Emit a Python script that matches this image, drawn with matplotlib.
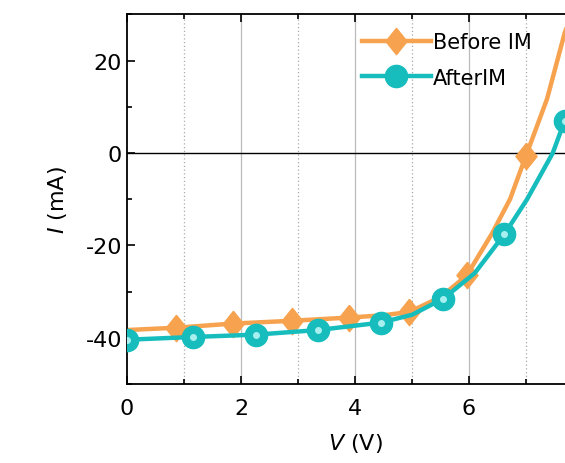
import matplotlib
matplotlib.use('Agg')
import matplotlib.pyplot as plt
from matplotlib.ticker import MultipleLocator

plt.rcParams['font.family'] = ['DejaVu Sans']
plt.rcParams['mathtext.fontset'] = 'dejavusans'
plt.rcParams['axes.unicode_minus'] = False

# Before IM: line and diamond markers
before_v = [0.0, 0.86, 1.86, 2.89, 3.9, 4.5, 4.95, 5.5, 5.96, 6.4, 6.72, 7.0, 7.37, 7.68, 7.9]
before_i = [-38.3, -37.8, -36.9, -36.3, -35.6, -35.1, -34.4, -31.2, -26.5, -17.5, -10.0, -0.6, 11.7, 26.0, 33.0]
before_mv = [0.86, 1.86, 2.89, 3.9, 4.95, 5.96, 7.0]
before_mi = [-37.8, -36.9, -36.3, -35.6, -34.4, -26.5, -0.6]

# After IM: line and circle markers
after_v = [0.0, 1.16, 2.26, 3.35, 4.45, 5.0, 5.55, 6.1, 6.62, 7.02, 7.47, 7.68, 7.9]
after_i = [-40.4, -39.8, -39.3, -38.3, -36.7, -35.0, -31.5, -26.0, -17.6, -10.0, 0.0, 7.0, 15.0]
after_mv = [0.0, 1.16, 2.26, 3.35, 4.45, 5.55, 6.62, 7.68]
after_mi = [-40.4, -39.8, -39.3, -38.3, -36.7, -31.5, -17.6, 7.0]

orange = '#F7A24E'
teal = '#17BDBD'
diamond = [(0, 1), (0.8, 0), (0, -1), (-0.8, 0), (0, 1)]

fig = plt.figure(figsize=(5.65, 4.64), dpi=100)
ax = fig.add_axes([0.2248, 0.170, 0.807, 0.797])

for x in range(1, 8):
    if x % 2 == 0:
        ax.axvline(x, color='#BBBBBB', lw=0.9, zorder=0)
    else:
        ax.axvline(x, color='#AAAAAA', lw=0.9, ls=(0, (1, 2)), zorder=0)
ax.axhline(0, color='black', lw=1.0, zorder=1)

ax.plot(before_v, before_i, color=orange, lw=3.2, zorder=2)
ax.plot(before_mv, before_mi, ls='none', marker=diamond, ms=19, color=orange, zorder=3)
ax.plot(after_v, after_i, color=teal, lw=3.2, zorder=4)
ax.plot(after_mv, after_mi, ls='none', marker='o', ms=16, color=teal, zorder=5)
ax.plot(after_mv, after_mi, ls='none', marker='o', ms=4, color='#A8F0F0', zorder=6)

# legend handles
ax.plot([], [], color=orange, lw=3.2, marker=diamond, ms=19, label='Before IM')
ax.plot([], [], color=teal, lw=3.2, marker='o', ms=16, label='AfterIM')
h, l = ax.get_legend_handles_labels()
ax.legend(h[-2:], l[-2:], loc='upper left', bbox_to_anchor=(0.497, 0.975), frameon=False,
          fontsize=15, handlelength=3.3, handletextpad=0.1, labelspacing=0.75, borderaxespad=0)

ax.set_xlim(0, 8)
ax.set_ylim(-50, 30)
ax.set_xticks([0, 2, 4, 6])
ax.set_yticks([-40, -20, 0, 20])
ax.xaxis.set_minor_locator(MultipleLocator(1))
ax.yaxis.set_minor_locator(MultipleLocator(10))
ax.tick_params(which='both', direction='in', top=True, right=True, labelsize=16, width=1.2)
ax.tick_params(which='major', length=6)
ax.tick_params(which='minor', length=3.5)
ax.tick_params(axis='x', which='major', pad=10)
for s in ax.spines.values():
    s.set_linewidth(1.3)

ax.set_xlabel('$\\mathit{V}$ (V)', fontsize=16, labelpad=9)
ax.set_ylabel('$\\mathit{I}$ (mA)', fontsize=16, labelpad=12)

fig.savefig('out.png', dpi=100)
